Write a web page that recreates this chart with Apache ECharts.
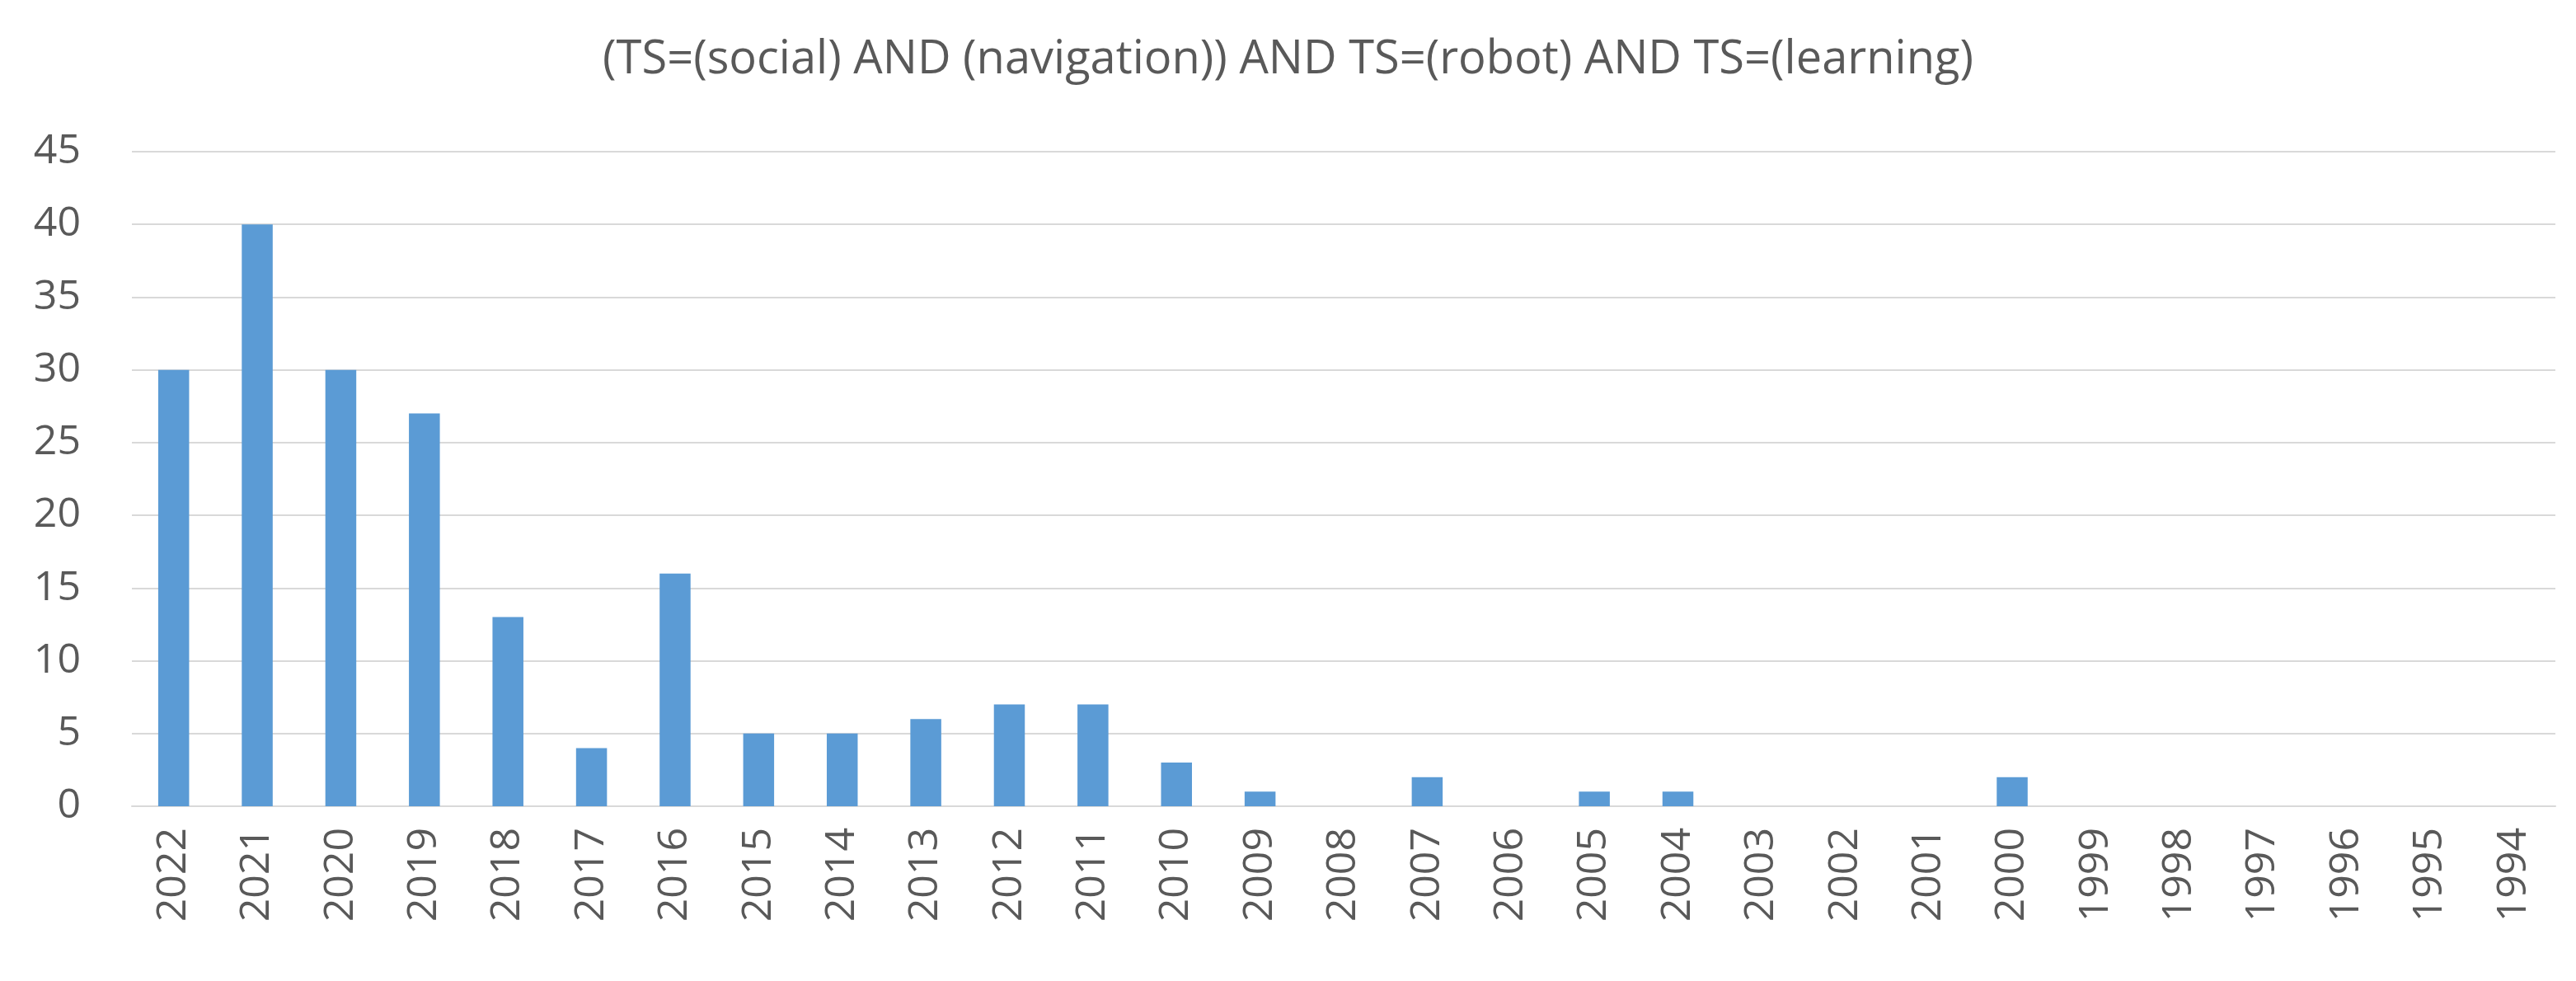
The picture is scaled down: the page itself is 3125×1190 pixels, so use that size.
<!DOCTYPE html>
<html>
<head>
<meta charset="utf-8">
<script src="https://cdn.jsdelivr.net/npm/echarts@6/dist/echarts.min.js"></script>
<style>html,body{margin:0;padding:0;background:#fff}#chart{width:3125px;height:1190px}</style>
</head>
<body>
<div id="chart"></div>
<script>
const years = ["2022","2021","2020","2019","2018","2017","2016","2015","2014","2013","2012","2011","2010","2009","2008","2007","2006","2005","2004","2003","2002","2001","2000","1999","1998","1997","1996","1995","1994"];
const counts = [30,40,30,27,13,4,16,5,5,6,7,7,3,1,0,2,0,1,1,0,0,0,2,0,0,0,0,0,0];
const yTicks = { min: 0, max: 45, interval: 5 };

const chart = echarts.init(document.getElementById("chart"));
chart.setOption({
  animation: false,
  title: {
    text: "(TS=(social) AND (navigation)) AND TS=(robot) AND TS=(learning)",
    left: "center", top: 40,
    textStyle: { fontFamily: "Open Sans", fontSize: 56, fontWeight: "normal", color: "#595959" }
  },
  grid: { left: 160, right: 25, top: 184, bottom: 212 },
  xAxis: {
    type: "category", data: years,
    axisLine: { lineStyle: { color: "#d9d9d9", width: 2 } },
    axisTick: { show: false },
    axisLabel: { rotate: 90, fontFamily: "Open Sans", fontSize: 50, color: "#595959", margin: 26 }
  },
  yAxis: {
    type: "value", min: yTicks.min, max: yTicks.max, interval: yTicks.interval,
    axisLine: { show: false }, axisTick: { show: false },
    splitLine: { lineStyle: { color: "#d9d9d9", width: 2 } },
    axisLabel: { fontFamily: "Open Sans", fontSize: 50, color: "#595959", margin: 62 }
  },
  series: [{ type: "bar", data: counts, barWidth: "37%", itemStyle: { color: "#5b9bd5" } }]
});
</script>
</body>
</html>
